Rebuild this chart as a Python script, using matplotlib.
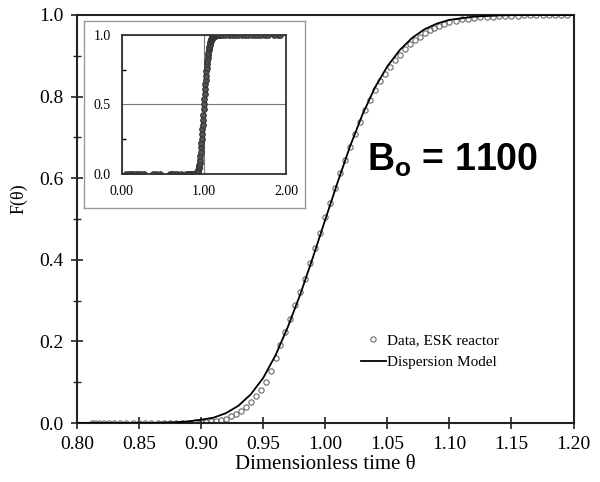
import numpy as np
import matplotlib
matplotlib.use("Agg")
import matplotlib.pyplot as plt
from matplotlib.ticker import MultipleLocator, FormatStrFormatter

plt.rcParams['font.family'] = ['Liberation Serif', 'DejaVu Serif']
plt.rcParams['mathtext.fontset'] = 'custom'
plt.rcParams['mathtext.bf'] = 'Liberation Sans:bold'
plt.rcParams['mathtext.rm'] = 'Liberation Sans:bold'

theta_data = [0.812, 0.815, 0.818, 0.822, 0.826, 0.830, 0.835, 0.840, 0.845, 0.850,
              0.855, 0.860, 0.865, 0.870, 0.875, 0.880, 0.885, 0.890, 0.895, 0.900,
              0.904, 0.908, 0.912, 0.916, 0.920, 0.924, 0.928, 0.932, 0.936, 0.940,
              0.944, 0.948, 0.952, 0.956, 0.960, 0.964, 0.968, 0.972, 0.976, 0.980,
              0.984, 0.988, 0.992, 0.996, 1.000, 1.004, 1.008, 1.012, 1.016, 1.020,
              1.024, 1.028, 1.032, 1.036, 1.040, 1.044, 1.048, 1.052, 1.056, 1.060,
              1.064, 1.068, 1.072, 1.076, 1.080, 1.084, 1.088, 1.092, 1.096, 1.100,
              1.105, 1.110, 1.115, 1.120, 1.125, 1.130, 1.135, 1.140, 1.145, 1.150,
              1.155, 1.160, 1.165, 1.170, 1.175, 1.180, 1.185, 1.190, 1.195]
F_data = [0.0, 0.0, 0.0, 0.0, 0.0, 0.0, 0.0, 0.0, 0.0, 0.0,
          0.0, 0.0, 0.0, 0.0, 0.0, 0.0, 0.0, 0.001, 0.002, 0.002,
          0.003, 0.005, 0.006, 0.008, 0.011, 0.016, 0.022, 0.030, 0.040, 0.052,
          0.066, 0.082, 0.100, 0.128, 0.160, 0.192, 0.222, 0.255, 0.290, 0.322,
          0.352, 0.392, 0.428, 0.466, 0.505, 0.540, 0.576, 0.612, 0.644, 0.676,
          0.708, 0.738, 0.766, 0.792, 0.815, 0.837, 0.856, 0.873, 0.889, 0.903,
          0.916, 0.928, 0.938, 0.947, 0.955, 0.962, 0.968, 0.973, 0.978, 0.982,
          0.986, 0.989, 0.991, 0.993, 0.994, 0.995, 0.996, 0.997, 0.997, 0.998,
          0.998, 0.999, 0.999, 0.999, 0.999, 1.000, 1.000, 1.000, 1.000]

# dispersion model curve
theta_model = [0.80, 0.86, 0.88, 0.89, 0.90, 0.91, 0.92, 0.93, 0.94, 0.95,
               0.96, 0.97, 0.98, 0.99, 1.00, 1.01, 1.02, 1.03, 1.04, 1.05,
               1.06, 1.07, 1.08, 1.09, 1.10, 1.12, 1.14, 1.16, 1.20]
F_model = [0.0, 0.0, 0.002, 0.004, 0.008, 0.013, 0.024, 0.042, 0.070, 0.110,
           0.166, 0.236, 0.316, 0.405, 0.498, 0.590, 0.678, 0.756, 0.822, 0.874,
           0.914, 0.944, 0.965, 0.979, 0.988, 0.996, 0.999, 1.0, 1.0]

# inset: full-range data
theta_inset_lo = [0.05, 0.08, 0.11, 0.14, 0.17, 0.20, 0.23, 0.27, 0.38, 0.42,
                  0.46, 0.58, 0.61, 0.64, 0.67, 0.72, 0.78]
F_inset_lo = [0.0] * len(theta_inset_lo)
theta_inset_hi = [1.22, 1.26, 1.30, 1.34, 1.38, 1.42, 1.46, 1.50, 1.54, 1.58,
                  1.62, 1.66, 1.70, 1.74, 1.78, 1.86, 1.90, 1.93]
F_inset_hi = [1.0] * len(theta_inset_hi)

fig = plt.figure(figsize=(6.0, 4.82), dpi=100)
ax = fig.add_axes([0.128, 0.1224, 0.828, 0.8465])

ax.plot(theta_model, F_model, color='black', lw=1.3, zorder=3,
        label='Dispersion Model')
ax.plot(theta_data, F_data, ls='none', marker='o', ms=3.8, mfc='none',
        mec='#6a6a6a', mew=0.8, zorder=2, label='Data, ESK reactor')

ax.set_xlim(0.80, 1.20)
ax.set_ylim(0.0, 1.0)
ax.xaxis.set_major_locator(MultipleLocator(0.05))
ax.xaxis.set_major_formatter(FormatStrFormatter('%.2f'))
ax.yaxis.set_major_locator(MultipleLocator(0.2))
ax.yaxis.set_minor_locator(MultipleLocator(0.1))
ax.yaxis.set_major_formatter(FormatStrFormatter('%.1f'))
ax.tick_params(which='major', direction='inout', length=9, width=1.2,
               labelsize=14, color='#222222', pad=5)
ax.tick_params(which='minor', direction='inout', length=6, width=1.0,
               color='#222222')
for s in ax.spines.values():
    s.set_linewidth(1.5)
    s.set_color('#222222')

ax.set_xlabel('Dimensionless time θ', fontsize=15, labelpad=1)
ax.set_ylabel('F(θ)', fontsize=13)
ax.yaxis.set_label_coords(-0.10, 0.55)

handles, labels = ax.get_legend_handles_labels()
leg = ax.legend(handles[::-1], labels[::-1], loc='upper left',
                bbox_to_anchor=(0.56, 0.235), frameon=False, fontsize=11,
                handlelength=1.6, handletextpad=0.1, labelspacing=0.55,
                borderaxespad=0)

ax.text(1.034, 0.618, r'B$_{\mathbf{o}}$ = 1100', fontsize=27,
        fontweight='bold', family='Liberation Sans', ha='left', va='baseline')

# inset frame
frame = fig.add_axes([0.14, 0.5685, 0.3683, 0.388])
frame.set_xticks([])
frame.set_yticks([])
for s in frame.spines.values():
    s.set_color('#9a9a9a')
    s.set_linewidth(1.0)

ins = fig.add_axes([0.2033, 0.639, 0.2733, 0.2884])
ins.plot(theta_inset_lo, F_inset_lo, ls='none', marker='o', ms=4,
         mfc='#555555', mec='#333333', mew=0.8)
ins.plot(theta_data, F_data, ls='none', marker='o', ms=4,
         mfc='#555555', mec='#333333', mew=0.8)
ins.plot(theta_inset_hi, F_inset_hi, ls='none', marker='o', ms=4,
         mfc='#555555', mec='#333333', mew=0.8)
ins.set_xlim(0.0, 2.0)
ins.set_ylim(0.0, 1.0)
ins.set_xticks([0.0, 1.0, 2.0])
ins.set_yticks([0.0, 0.5, 1.0])
ins.yaxis.set_minor_locator(MultipleLocator(0.25))
ins.xaxis.set_major_formatter(FormatStrFormatter('%.2f'))
ins.yaxis.set_major_formatter(FormatStrFormatter('%.1f'))
ins.grid(True, which='major', color='#777777', lw=0.8)
ins.tick_params(which='major', direction='in', length=0, labelsize=10, pad=8)
ins.tick_params(which='minor', direction='in', length=3, width=1.0)
for s in ins.spines.values():
    s.set_linewidth(1.3)
    s.set_color('#333333')

fig.savefig('out.png', dpi=100)
